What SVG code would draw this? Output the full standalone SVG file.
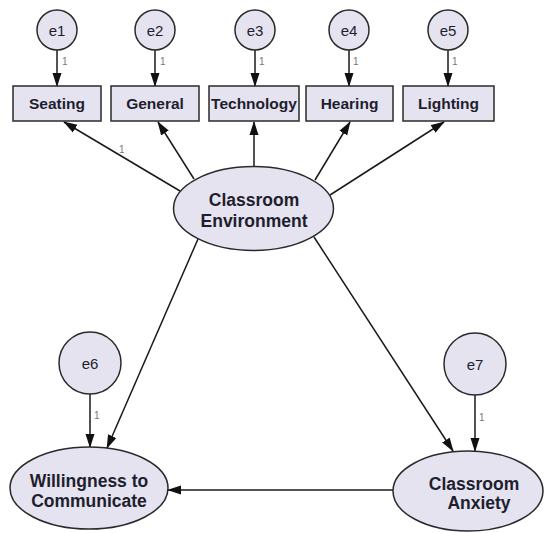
<svg xmlns="http://www.w3.org/2000/svg" width="544" height="533" viewBox="0 0 544 533">
<style>
.node{fill:#e5e3f0;stroke:#2a2a2a;stroke-width:1.5}
.lbl{font-family:"Liberation Sans",Arial,sans-serif;fill:#1e1e2e;text-anchor:middle}
.obs{font-size:15.5px;font-weight:bold}
.lat{font-size:17.5px;font-weight:bold}
.err{font-size:15px}
.one{font-family:"Liberation Sans",Arial,sans-serif;font-size:10px;fill:#777}
.edge{stroke:#1a1a1a;stroke-width:1.5;fill:none;marker-end:url(#ah)}
</style>
<defs>
<marker id="ah" markerWidth="14" markerHeight="10" refX="13" refY="5" orient="auto" markerUnits="userSpaceOnUse">
<path d="M0,0.5 L14,5 L0,9.5 z" fill="#111"/>
</marker>
</defs>
<rect width="544" height="533" fill="#ffffff"/>

<g id="connectors">
<line class="edge" x1="57" y1="50" x2="57" y2="86"/>
<line class="edge" x1="155" y1="50" x2="155" y2="86"/>
<line class="edge" x1="255" y1="50" x2="255" y2="86"/>
<line class="edge" x1="349" y1="50" x2="349" y2="86"/>
<line class="edge" x1="448" y1="50" x2="448" y2="86"/>
<line class="edge" x1="180" y1="191" x2="64" y2="122"/>
<line class="edge" x1="194" y1="179" x2="158" y2="122"/>
<line class="edge" x1="254" y1="167" x2="254" y2="122"/>
<line class="edge" x1="315" y1="180" x2="350" y2="122"/>
<line class="edge" x1="330" y1="195" x2="444" y2="122"/>
<line class="edge" x1="198" y1="239" x2="107" y2="448"/>
<line class="edge" x1="314" y1="237" x2="453" y2="451"/>
<line class="edge" x1="90" y1="394" x2="90" y2="447"/>
<line class="edge" x1="475" y1="395" x2="475" y2="451"/>
<line class="edge" x1="393" y1="490" x2="168" y2="490"/>
<text class="one" x="62" y="65">1</text>
<text class="one" x="160" y="65">1</text>
<text class="one" x="259" y="65">1</text>
<text class="one" x="353" y="65">1</text>
<text class="one" x="452" y="65">1</text>
<text class="one" x="119" y="153">1</text>
<text class="one" x="94" y="419">1</text>
<text class="one" x="479" y="421">1</text>
</g>

<g id="e1"><circle class="node" cx="57" cy="30" r="20"/><text class="lbl err" x="57" y="36">e1</text></g>
<g id="e2"><circle class="node" cx="155" cy="30" r="20"/><text class="lbl err" x="155" y="36">e2</text></g>
<g id="e3"><circle class="node" cx="255" cy="30" r="20"/><text class="lbl err" x="255" y="36">e3</text></g>
<g id="e4"><circle class="node" cx="349" cy="30" r="20"/><text class="lbl err" x="349" y="36">e4</text></g>
<g id="e5"><circle class="node" cx="448" cy="30" r="20"/><text class="lbl err" x="448" y="36">e5</text></g>

<g id="seating"><rect class="node" x="13" y="86" width="88" height="35"/><text class="lbl obs" x="57" y="109">Seating</text></g>
<g id="general"><rect class="node" x="111" y="86" width="88" height="35"/><text class="lbl obs" x="155" y="109">General</text></g>
<g id="technology"><rect class="node" x="209" y="86" width="90" height="35"/><text class="lbl obs" x="254" y="109">Technology</text></g>
<g id="hearing"><rect class="node" x="306" y="86" width="87" height="35"/><text class="lbl obs" x="349.5" y="109">Hearing</text></g>
<g id="lighting"><rect class="node" x="403" y="86" width="91" height="35"/><text class="lbl obs" x="448.5" y="109">Lighting</text></g>

<g id="classroom-environment"><ellipse class="node" cx="253.5" cy="208.5" rx="80" ry="42"/><text class="lbl lat" x="254" y="206">Classroom</text><text class="lbl lat" x="254" y="227">Environment</text></g>

<g id="e6"><circle class="node" cx="90" cy="363" r="31"/><text class="lbl err" x="90" y="369">e6</text></g>
<g id="e7"><circle class="node" cx="475" cy="364" r="31"/><text class="lbl err" x="475" y="370">e7</text></g>

<g id="willingness"><ellipse class="node" cx="89" cy="488" rx="79" ry="41"/><text class="lbl lat" x="89" y="487">Willingness to</text><text class="lbl lat" x="89" y="507">Communicate</text></g>
<g id="classroom-anxiety"><ellipse class="node" cx="468" cy="491" rx="75" ry="40"/><text class="lbl lat" x="474" y="490">Classroom</text><text class="lbl lat" x="479" y="509">Anxiety</text></g>
</svg>
